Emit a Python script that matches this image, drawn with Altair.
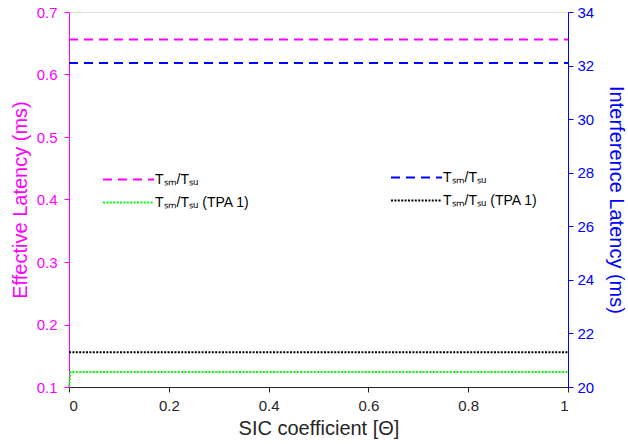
import altair as alt
import pandas as pd

# ---- data ----
sic_x = [0.0, 1.0]
green_x = [0.0, 0.003, 1.0]

eff_dyn = [0.656, 0.656]           # magenta dashed, left axis
eff_tpa = [0.1, 0.124, 0.124]      # green dotted, left axis
int_dyn = [32.1, 32.1]             # blue dashed, right axis
int_tpa = [21.3, 21.3]             # black dotted, right axis

x_ticks = [0, 0.2, 0.4, 0.6, 0.8, 1]
left_ticks = [0.1, 0.2, 0.3, 0.4, 0.5, 0.6, 0.7]
right_ticks = [20, 22, 24, 26, 28, 30, 32, 34]

lab_a = "Tₛₘ/Tₛᵤ"
lab_b = "Tₛₘ/Tₛᵤ (TPA 1)"

left_df = pd.DataFrame({
    "x": sic_x + green_x,
    "y": eff_dyn + eff_tpa,
    "s": [lab_a] * len(sic_x) + [lab_b] * len(green_x),
    "o": list(range(len(sic_x))) + list(range(len(green_x))),
})
right_df = pd.DataFrame({
    "x": sic_x + sic_x,
    "y": int_dyn + int_tpa,
    "s": [lab_a] * len(sic_x) + [lab_b] * len(sic_x),
    "o": list(range(len(sic_x))) * 2,
})

FONT = "Liberation Sans"
W, H = 499, 375
GRAY = "#262626"
MAG = "#ff00ff"
BLUE = "#0000ff"

xenc = alt.X("x:Q", scale=alt.Scale(domain=[0, 1], nice=False, zero=False),
             axis=alt.Axis(title="SIC coefficient [Θ]", values=x_ticks,
                           format="~g", grid=False, domainColor=GRAY, tickColor=GRAY,
                           labelColor=GRAY, titleColor=GRAY, labelFontSize=15,
                           titleFontSize=20, titleFontWeight="normal", labelPadding=6,
                           titlePadding=5, tickSize=5))

legend_common = dict(orient="none", title=None, symbolType="M-3,0H3", symbolSize=289,
                     symbolStrokeWidth=2, labelFontSize=14, labelFont=FONT, labelColor="#000000",
                     rowPadding=6, labelOffset=17)

left = alt.Chart(left_df).mark_line(strokeWidth=2).encode(
    x=xenc,
    y=alt.Y("y:Q", scale=alt.Scale(domain=[0.1, 0.7], nice=False, zero=False),
            axis=alt.Axis(orient="left", title="Effective Latency (ms)", values=left_ticks,
                          format=".1f", grid=False, domainColor=MAG, tickColor=MAG,
                          labelColor=MAG, titleColor=MAG, labelFontSize=15,
                          titleFontSize=20, titleFontWeight="normal", titlePadding=6, tickSize=5,
                          labelPadding=7)),
    color=alt.Color("s:N", scale=alt.Scale(domain=[lab_a, lab_b], range=[MAG, "#00ff00"]),
                    legend=alt.Legend(legendX=50, legendY=158, **legend_common)),
    strokeDash=alt.StrokeDash("s:N", scale=alt.Scale(domain=[lab_a, lab_b], range=[[9, 6], [2, 1.4]]),
                              legend=alt.Legend(legendX=50, legendY=158, **legend_common)),
    order="o:Q",
)

right = alt.Chart(right_df).mark_line(strokeWidth=2).encode(
    x=xenc,
    y=alt.Y("y:Q", scale=alt.Scale(domain=[20, 34], nice=False, zero=False),
            axis=alt.Axis(orient="right", title="Interference Latency (ms)", values=right_ticks,
                          format="d", grid=False, domainColor=BLUE, tickColor=BLUE,
                          labelColor=BLUE, titleColor=BLUE, labelFontSize=15,
                          titleFontSize=20, titleFontWeight="normal", titlePadding=12, tickSize=5,
                          labelPadding=4)),
    color=alt.Color("s:N", scale=alt.Scale(domain=[lab_a, lab_b], range=[BLUE, "#000000"]),
                    legend=alt.Legend(legendX=338, legendY=156, **legend_common)),
    strokeDash=alt.StrokeDash("s:N", scale=alt.Scale(domain=[lab_a, lab_b], range=[[9, 6], [2, 1.4]]),
                              legend=alt.Legend(legendX=338, legendY=156, **legend_common)),
    order="o:Q",
)

chart = alt.layer(left, right).resolve_scale(
    y="independent", color="independent", strokeDash="independent"
).properties(
    width=W, height=H,
    autosize=alt.AutoSizeParams(type="none"),
    padding={"left": 69, "top": 12, "right": 60, "bottom": 57},
).configure_view(stroke=GRAY, strokeWidth=1).configure(font=FONT, background="white")

chart.save("out.html", embed_options={"renderer": "svg", "actions": False})
